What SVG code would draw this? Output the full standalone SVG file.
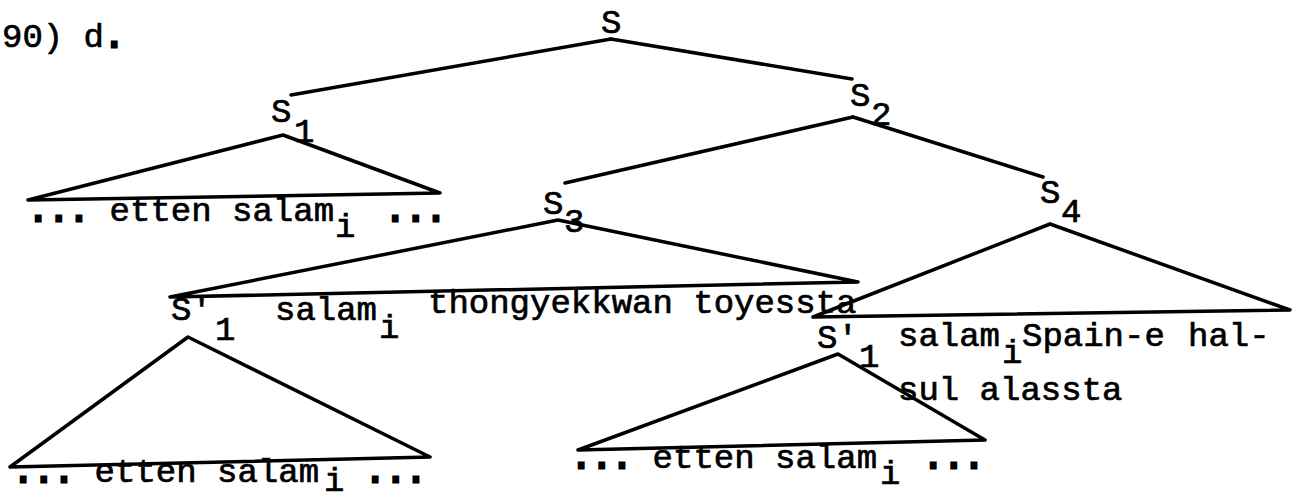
<svg xmlns="http://www.w3.org/2000/svg" width="1295" height="498" viewBox="0 0 1295 498">
<style>
text{font-family:"Liberation Mono","Courier New",monospace;font-size:34px;fill:#000;stroke:#000;stroke-width:0.7}
.dots{stroke-width:3}
line,polyline{stroke:#000;stroke-width:3.5;fill:none;stroke-linecap:round;stroke-linejoin:round}
</style>
<rect width="1295" height="498" fill="#fff"/>
<text x="2" y="47">90) d<tspan class="dots">.</tspan></text>
<g id="connectors">
<line x1="611" y1="39" x2="291" y2="95"/>
<line x1="611" y1="39" x2="852" y2="79"/>
<line x1="853" y1="117" x2="565" y2="183"/>
<line x1="853" y1="117" x2="1043" y2="177"/>
</g>
<g id="node-S"><text x="601" y="33">S</text></g>
<g id="node-S1">
<text x="271" y="122">S</text><text x="294" y="142">1</text>
<polyline points="28,200 283,135 440,193 28,200"/>
<text x="28" y="221"><tspan class="dots">...</tspan> etten salam</text>
<text x="335" y="237">i</text>
<text class="dots" x="385" y="221">...</text>
</g>
<g id="node-S2"><text x="850" y="106">S</text><text x="871" y="125">2</text></g>
<g id="node-S3">
<text x="543" y="214">S</text><text x="564" y="232">3</text>
<polyline points="170,297 558,220 858,282 170,297"/>
<text x="171" y="320">S'</text><text x="215" y="340">1</text>
<text x="275" y="320">salam</text><text x="379" y="338">i</text>
<text x="428" y="313">thongyekkwan toyessta</text>
</g>
<g id="node-S4">
<text x="1040" y="203">S</text><text x="1061" y="222">4</text>
<polyline points="813,317 1050,224 1290,310 813,317"/>
<text x="817" y="348">S'</text><text x="859" y="367">1</text>
<text x="898" y="346">salam</text><text x="1002" y="363">i</text>
<text x="1022" y="346">Spain-e</text>
<text x="1188" y="346">hal-</text>
<text x="898" y="400">sul alassta</text>
</g>
<g id="node-S1p-left">
<polyline points="10,467 188,337 430,457 10,467"/>
<text x="13" y="482"><tspan class="dots">...</tspan> etten salam</text>
<text x="324" y="491">i</text>
<text class="dots" x="365" y="482">...</text>
</g>
<g id="node-S1p-right">
<polyline points="578,450 838,354 985,440 578,450"/>
<text x="571" y="468"><tspan class="dots">...</tspan> etten salam</text>
<text x="880" y="484">i</text>
<text class="dots" x="923" y="468">...</text>
</g>
</svg>
